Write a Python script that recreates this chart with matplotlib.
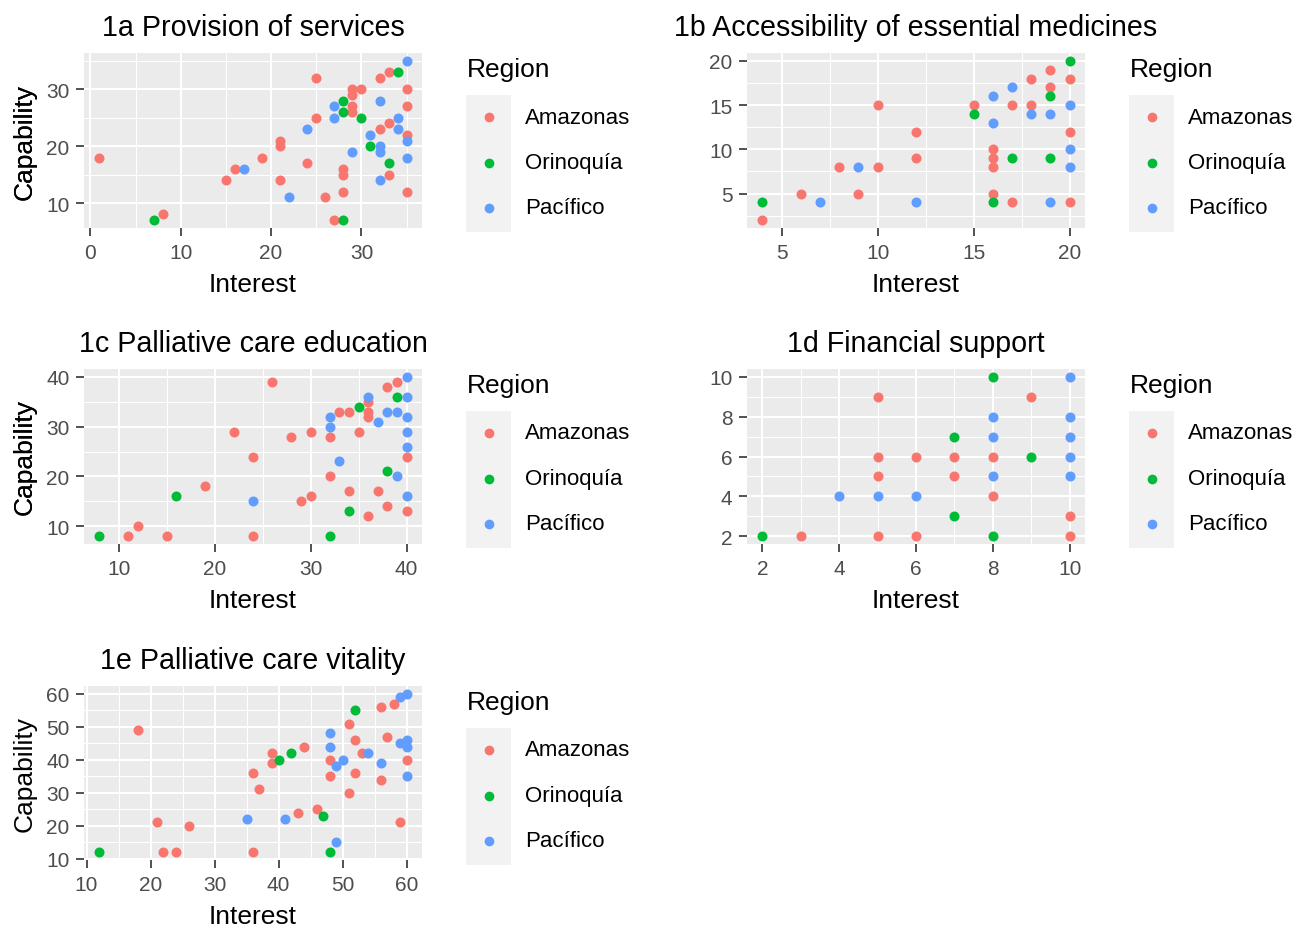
import matplotlib

matplotlib.use("Agg")
import matplotlib.pyplot as plt
from matplotlib.lines import Line2D
from matplotlib.patches import Rectangle
from matplotlib.ticker import MultipleLocator

W, H = 1307, 929
plt.rcParams["font.family"] = ["Liberation Sans", "DejaVu Sans"]

REGIONS = ["Amazonas", "Orinoquía", "Pacífico"]
COLORS = {"Amazonas": "#F8766D", "Orinoquía": "#00BA38", "Pacífico": "#619CFF"}

# (interest, capability) pairs per region for each domain
PROVISION = {
    "Amazonas": [(1, 18), (8, 8), (15, 14), (16, 16), (19, 18), (21, 21), (21, 20), (21, 14),
                 (24, 17), (25, 32), (25, 25), (26, 11), (27, 7), (28, 16), (28, 15), (28, 12),
                 (29, 30), (29, 29), (29, 27), (29, 26), (30, 30), (32, 32), (32, 23), (33, 33),
                 (33, 24), (33, 15), (35, 30), (35, 27), (35, 22), (35, 12)],
    "Orinoquía": [(7, 7), (28, 28), (28, 26), (28, 7), (30, 25), (31, 20), (33, 17), (34, 33)],
    "Pacífico": [(17, 16), (22, 11), (24, 23), (27, 27), (27, 25), (29, 19), (31, 22), (32, 28),
                 (32, 20), (32, 19), (32, 14), (34, 25), (34, 23), (35, 35), (35, 21), (35, 18)],
}

MEDICINES = {
    "Amazonas": [(4, 2), (6, 5), (8, 8), (9, 5), (10, 15), (10, 8), (12, 12), (12, 9), (15, 15),
                 (16, 10), (16, 9), (16, 8), (16, 5), (17, 15), (17, 4), (18, 18), (18, 15),
                 (19, 19), (19, 17), (20, 18), (20, 12), (20, 4)],
    "Orinoquía": [(4, 4), (15, 14), (16, 4), (17, 9), (19, 16), (19, 9), (20, 20)],
    "Pacífico": [(7, 4), (9, 8), (12, 4), (16, 16), (16, 13), (17, 17), (18, 14), (19, 14),
                 (19, 4), (20, 15), (20, 10), (20, 8)],
}

EDUCATION = {
    "Amazonas": [(11, 8), (12, 10), (15, 8), (19, 18), (22, 29), (24, 24), (24, 8), (26, 39),
                 (28, 28), (29, 15), (30, 29), (30, 16), (32, 28), (32, 20), (33, 33), (34, 33),
                 (34, 17), (35, 29), (36, 35), (36, 33), (36, 32), (36, 12), (37, 17), (38, 38),
                 (38, 14), (39, 39), (40, 24), (40, 13)],
    "Orinoquía": [(8, 8), (16, 16), (32, 8), (34, 13), (35, 34), (38, 21), (39, 36)],
    "Pacífico": [(24, 15), (32, 32), (32, 30), (33, 23), (36, 36), (37, 31), (38, 33), (39, 33),
                 (39, 20), (40, 40), (40, 36), (40, 32), (40, 29), (40, 26), (40, 16)],
}

FINANCIAL = {
    "Amazonas": [(3, 2), (5, 9), (5, 6), (5, 5), (5, 2), (6, 6), (6, 2), (7, 6), (7, 5), (8, 6),
                 (8, 4), (9, 9), (10, 3), (10, 2)],
    "Orinoquía": [(2, 2), (7, 7), (7, 3), (8, 10), (8, 2), (9, 6)],
    "Pacífico": [(4, 4), (5, 4), (6, 4), (8, 8), (8, 7), (8, 5), (10, 10), (10, 8), (10, 7),
                 (10, 6), (10, 5)],
}

VITALITY = {
    "Amazonas": [(18, 49), (21, 21), (22, 12), (24, 12), (26, 20), (36, 36), (36, 12), (37, 31),
                 (39, 42), (39, 39), (43, 24), (44, 44), (46, 25), (48, 40), (48, 35), (51, 51),
                 (51, 30), (52, 46), (52, 36), (53, 42), (56, 56), (56, 34), (57, 47), (58, 57),
                 (59, 21), (60, 40)],
    "Orinoquía": [(12, 12), (40, 40), (42, 42), (47, 23), (48, 12), (52, 55)],
    "Pacífico": [(35, 22), (41, 22), (48, 48), (48, 44), (49, 15), (49, 38), (50, 40), (54, 42),
                 (56, 39), (59, 59), (59, 45), (60, 60), (60, 46), (60, 44), (60, 35)],
}

TITLES = ["1a Provision of services", "1b Accessibility of essential medicines",
          "1c Palliative care education", "1d Financial support", "1e Palliative care vitality"]
DATASETS = [PROVISION, MEDICINES, EDUCATION, FINANCIAL, VITALITY]
STEPS = [10, 5, 10, 2, 10]

# panel boxes in pixels: left, top, right, bottom
BOXES = [(84, 54, 422, 229), (747, 54, 1085, 229),
         (84, 370, 422, 545), (747, 370, 1085, 545),
         (84, 687, 422, 861)]


def fig_rect(x0, y0, x1, y1):
    return [x0 / W, 1 - y1 / H, (x1 - x0) / W, (y1 - y0) / H]


def fx(x):
    return x / W


def fy(y):
    return 1 - y / H


def padded(values):
    lo, hi = min(values), max(values)
    pad = 0.05 * (hi - lo)
    return lo - pad, hi + pad


fig = plt.figure(figsize=(W / 100, H / 100), dpi=100)

for title, data, step, box in zip(TITLES, DATASETS, STEPS, BOXES):
    x0, y0, x1, y1 = box
    ax = fig.add_axes(fig_rect(*box))
    ax.set_facecolor("#EBEBEB")

    all_x, all_y = [], []
    for region in REGIONS:
        xs = [p[0] for p in data[region]]
        ys = [p[1] for p in data[region]]
        all_x += xs
        all_y += ys
        ax.scatter(xs, ys, s=52, color=COLORS[region], linewidths=0, zorder=3)

    ax.set_xlim(*padded(all_x))
    ax.set_ylim(*padded(all_y))
    for axis in (ax.xaxis, ax.yaxis):
        axis.set_major_locator(MultipleLocator(step))
        axis.set_minor_locator(MultipleLocator(step / 2))
    ax.grid(which="major", color="white", linewidth=1.5)
    ax.grid(which="minor", color="white", linewidth=0.75)
    ax.set_axisbelow(True)
    for s in ax.spines.values():
        s.set_visible(False)
    ax.tick_params(which="major", length=5.5, width=1.2, color="#333333",
                   labelsize=15, labelcolor="#4D4D4D", pad=5)
    ax.tick_params(which="minor", length=0)

    cx = (x0 + x1) / 2
    fig.text(fx(cx), fy(y0 - 26), title, ha="center", va="center", fontsize=20.6)
    fig.text(fx(cx), fy(y1 + 56), "Interest", ha="center", va="center", fontsize=19)
    fig.text(fx(25), fy((y0 + y1) / 2), "Capability", ha="center", va="center",
             rotation=90, fontsize=19)

    # legend
    lx = x1 + 45
    fig.text(fx(lx), fy(y0 + 16), "Region", ha="left", va="center", fontsize=19)
    fig.add_artist(Rectangle((fx(lx - 1), fy(y0 + 179)), 45 / W, 137 / H,
                             transform=fig.transFigure, facecolor="#F2F2F2",
                             edgecolor="none"))
    for i, region in enumerate(REGIONS):
        ky = y0 + 64 + 45.5 * i
        fig.add_artist(Line2D([fx(lx + 22)], [fy(ky)], transform=fig.transFigure,
                              marker="o", markersize=7, linestyle="none",
                              markerfacecolor=COLORS[region], markeredgewidth=0))
        fig.text(fx(lx + 58), fy(ky), region, ha="left", va="center", fontsize=16)

fig.savefig("out.png", dpi=100)
